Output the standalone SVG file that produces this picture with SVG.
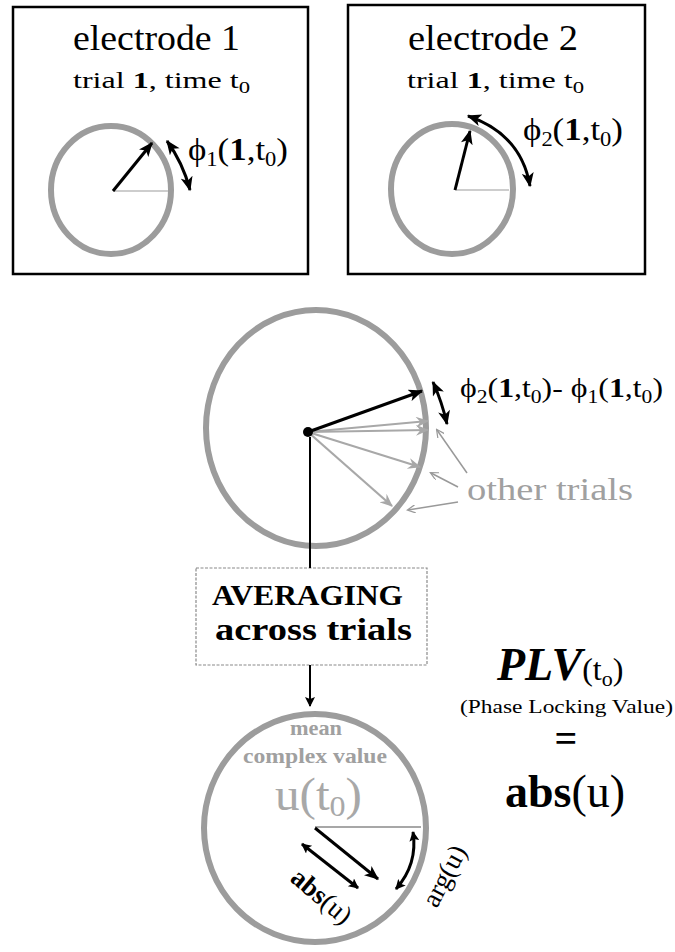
<svg xmlns="http://www.w3.org/2000/svg" width="675" height="952" viewBox="0 0 675 952">
<style>
text{font-family:"Liberation Serif","Times New Roman",serif;fill:#000}
.ring{fill:none;stroke:#9c9c9c;stroke-width:6}
.ref{stroke:#bdbdbd;stroke-width:1.5}
.vec{stroke:#000;stroke-width:3;fill:none}
.gvec{stroke:#a8a8a8;stroke-width:2.2;fill:none}
.ptr{stroke:#999;stroke-width:1.5;fill:none}
.frame{fill:#fff;stroke:#000;stroke-width:2.5}
.gray{fill:#a0a0a0}
</style>
<defs>
<marker id="ahB" viewBox="0 0 12 10" refX="11" refY="5" markerWidth="16" markerHeight="12" markerUnits="userSpaceOnUse" orient="auto-start-reverse"><path d="M0,0 L12,5 L0,10 L3,5 Z" fill="#000"/></marker>
<marker id="ahG" viewBox="0 0 12 10" refX="11" refY="5" markerWidth="16" markerHeight="11" markerUnits="userSpaceOnUse" orient="auto"><path d="M0,0 L12,5 L0,10 L4,5 Z" fill="#a8a8a8"/></marker>
<marker id="ahS" viewBox="0 0 10 10" refX="9" refY="5" markerWidth="10" markerHeight="8" markerUnits="userSpaceOnUse" orient="auto"><path d="M0,0 L10,5 L0,10" fill="none" stroke="#999" stroke-width="1.5"/></marker>
<marker id="ahK" viewBox="0 0 10 10" refX="9" refY="5" markerWidth="12" markerHeight="10" markerUnits="userSpaceOnUse" orient="auto-start-reverse"><path d="M0,0 L10,5 L0,10 L2,5 Z" fill="#000"/></marker>
</defs>

<g id="electrode1">
<rect class="frame" x="13" y="7" width="295" height="267"/>
<text x="73" y="50" font-size="35" textLength="167" lengthAdjust="spacingAndGlyphs">electrode 1</text>
<text x="73" y="88" font-size="24" textLength="177" lengthAdjust="spacingAndGlyphs">trial <tspan font-weight="bold">1</tspan>, time t<tspan font-size="17" dy="5">0</tspan></text>
<ellipse class="ring" cx="111" cy="190" rx="60" ry="64"/>
<line class="ref" x1="113" y1="191" x2="168" y2="191"/>
<line class="vec" x1="113" y1="191" x2="152" y2="143" marker-end="url(#ahB)"/>
<path class="vec" d="M167,141 Q183,163 190,190" stroke-width="2.5" marker-start="url(#ahB)" marker-end="url(#ahB)"/>
<text x="188" y="160" font-size="31" textLength="100" lengthAdjust="spacingAndGlyphs">ϕ<tspan font-size="20" dy="6">1</tspan><tspan dy="-6">(</tspan><tspan font-weight="bold">1</tspan>,t<tspan font-size="20" dy="6">0</tspan><tspan dy="-6">)</tspan></text>
</g>

<g id="electrode2">
<rect class="frame" x="348" y="5" width="297" height="269"/>
<text x="408" y="50" font-size="35" textLength="170" lengthAdjust="spacingAndGlyphs">electrode 2</text>
<text x="407" y="88" font-size="24" textLength="177" lengthAdjust="spacingAndGlyphs">trial <tspan font-weight="bold">1</tspan>, time t<tspan font-size="17" dy="5">0</tspan></text>
<ellipse class="ring" cx="452" cy="189" rx="61" ry="65"/>
<line class="ref" x1="455" y1="190" x2="509" y2="190"/>
<line class="vec" x1="455" y1="190" x2="470" y2="131" marker-end="url(#ahB)"/>
<path class="vec" d="M468,116 Q521,134 530,186" stroke-width="2.5" marker-start="url(#ahB)" marker-end="url(#ahB)"/>
<text x="523" y="140" font-size="31" textLength="100" lengthAdjust="spacingAndGlyphs">ϕ<tspan font-size="20" dy="6">2</tspan><tspan dy="-6">(</tspan><tspan font-weight="bold">1</tspan>,t<tspan font-size="20" dy="6">0</tspan><tspan dy="-6">)</tspan></text>
</g>

<g id="phase-difference">
<ellipse class="ring" cx="316" cy="428" rx="110" ry="118"/>
<line class="gvec" x1="308" y1="432" x2="428" y2="421" marker-end="url(#ahG)"/>
<line class="gvec" x1="308" y1="432" x2="428" y2="430" marker-end="url(#ahG)"/>
<line class="gvec" x1="308" y1="432" x2="420" y2="467" marker-end="url(#ahG)"/>
<line class="gvec" x1="308" y1="432" x2="392" y2="506" marker-end="url(#ahG)"/>
<line class="vec" x1="308" y1="432" x2="422" y2="391" marker-end="url(#ahB)"/>
<circle cx="308" cy="432" r="5" fill="#000"/>
<path class="vec" d="M433,382 Q442,402 447,424" stroke-width="3.5" marker-start="url(#ahB)" marker-end="url(#ahB)"/>
<text x="460" y="397" font-size="28" textLength="203" lengthAdjust="spacingAndGlyphs">ϕ<tspan font-size="19" dy="6">2</tspan><tspan dy="-6">(</tspan><tspan font-weight="bold">1</tspan>,t<tspan font-size="19" dy="6">0</tspan><tspan dy="-6">)- ϕ</tspan><tspan font-size="19" dy="6">1</tspan><tspan dy="-6">(</tspan><tspan font-weight="bold">1</tspan>,t<tspan font-size="19" dy="6">0</tspan><tspan dy="-6">)</tspan></text>
</g>

<g id="other-trials">
<text class="gray" x="467" y="500" font-size="32" textLength="166" lengthAdjust="spacingAndGlyphs">other trials</text>
<line class="ptr" x1="467" y1="473" x2="437" y2="430" marker-end="url(#ahS)"/>
<line class="ptr" x1="458" y1="487" x2="431" y2="473" marker-end="url(#ahS)"/>
<line class="ptr" x1="458" y1="502" x2="408" y2="510" marker-end="url(#ahS)"/>
</g>

<g id="averaging">
<rect x="196" y="568" width="231" height="97" fill="#fff" stroke="#8a8a8a" stroke-width="1.2" stroke-dasharray="3,1.5"/>
<text x="212" y="605" font-size="29" font-weight="bold" textLength="191" lengthAdjust="spacingAndGlyphs">AVERAGING</text>
<text x="215" y="640" font-size="32" font-weight="bold" textLength="197" lengthAdjust="spacingAndGlyphs">across trials</text>
</g>

<g id="connectors">
<line x1="310" y1="437" x2="310" y2="568" stroke="#000" stroke-width="2"/>
<line x1="310" y1="665" x2="310" y2="706" stroke="#000" stroke-width="2" marker-end="url(#ahK)"/>
</g>

<g id="mean-value">
<ellipse class="ring" cx="315" cy="828" rx="111" ry="114"/>
<text class="gray" x="290" y="735" font-size="21" font-weight="bold" textLength="52" lengthAdjust="spacingAndGlyphs">mean</text>
<text class="gray" x="243" y="763" font-size="21" font-weight="bold" textLength="144" lengthAdjust="spacingAndGlyphs">complex value</text>
<text x="275" y="810" font-size="46" textLength="87" lengthAdjust="spacingAndGlyphs" style="fill:#a8a8a8">u(t<tspan font-size="30" dy="6">0</tspan><tspan dy="-6">)</tspan></text>
<line x1="315" y1="827" x2="421" y2="827" stroke="#8a8a8a" stroke-width="1.5"/>
<line class="vec" x1="315" y1="828" x2="378" y2="879" stroke-width="3.5" marker-end="url(#ahB)"/>
<line class="vec" x1="302" y1="844" x2="358" y2="888" stroke-width="2.2" marker-start="url(#ahK)" marker-end="url(#ahK)"/>
<path class="vec" d="M413,832 Q418,864 396,889" stroke-width="2" marker-start="url(#ahK)" marker-end="url(#ahK)"/>
<text x="0" y="0" font-size="27" text-anchor="middle" transform="translate(316,903) rotate(40)"><tspan font-weight="bold">abs</tspan>(u)</text>
<text x="0" y="0" font-size="27" text-anchor="middle" transform="translate(452,880) rotate(-62)">arg(u)</text>
</g>

<g id="plv">
<text x="497" y="680" font-size="46" font-weight="bold" font-style="italic">PLV<tspan font-style="normal" font-weight="normal" font-size="32">(t</tspan><tspan font-style="normal" font-weight="normal" font-size="22" dy="6">o</tspan><tspan font-style="normal" font-weight="normal" font-size="32" dy="-6">)</tspan></text>
<text x="460" y="713" font-size="19" textLength="213" lengthAdjust="spacingAndGlyphs">(Phase Locking Value)</text>
<text x="566" y="752" font-size="40" font-weight="bold" text-anchor="middle">=</text>
<text x="505" y="807" font-size="46" textLength="120" lengthAdjust="spacingAndGlyphs"><tspan font-weight="bold">abs</tspan>(u)</text>
</g>
</svg>
